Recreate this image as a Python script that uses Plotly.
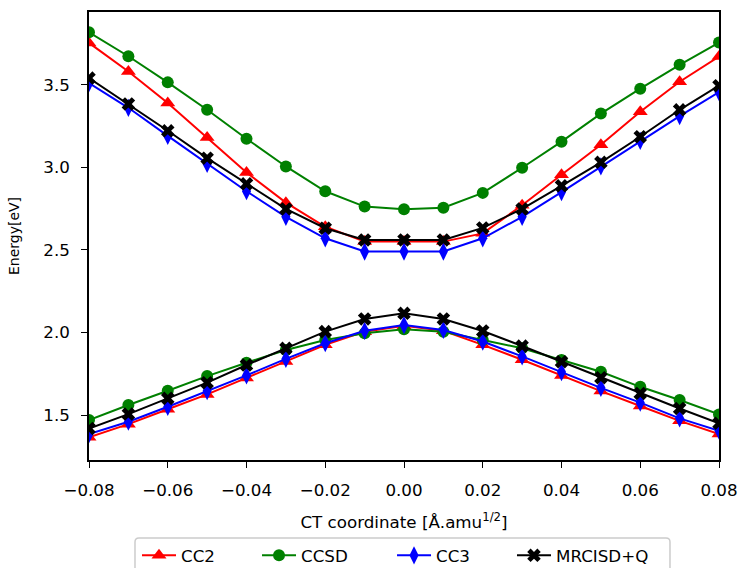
import plotly.graph_objects as go

x = [-0.08, -0.07, -0.06, -0.05, -0.04, -0.03, -0.02, -0.01, 0.0,
     0.01, 0.02, 0.03, 0.04, 0.05, 0.06, 0.07, 0.08]

# Upper state
cc2_up = [3.753, 3.58, 3.389, 3.18, 2.968, 2.786, 2.64, 2.55, 2.55,
          2.55, 2.60, 2.77, 2.955, 3.136, 3.336, 3.518, 3.67]
ccsd_up = [3.817, 3.672, 3.514, 3.348, 3.173, 3.005, 2.855, 2.762, 2.746,
           2.755, 2.845, 2.997, 3.155, 3.325, 3.476, 3.62, 3.755]
cc3_up = [3.51, 3.36, 3.19, 3.02, 2.855, 2.70, 2.57, 2.49, 2.49,
          2.49, 2.57, 2.70, 2.85, 3.005, 3.16, 3.31, 3.455]
mrci_up = [3.54, 3.383, 3.221, 3.055, 2.9, 2.748, 2.631, 2.56, 2.56,
           2.56, 2.633, 2.748, 2.888, 3.03, 3.185, 3.348, 3.494]

# Lower state
cc2_lo = [1.365, 1.445, 1.535, 1.625, 1.725, 1.825, 1.925, 2.005, 2.04,
          2.01, 1.925, 1.835, 1.74, 1.645, 1.555, 1.465, 1.385]
ccsd_lo = [1.47, 1.561, 1.647, 1.736, 1.817, 1.894, 1.955, 1.995, 2.02,
           2.005, 1.955, 1.904, 1.833, 1.762, 1.671, 1.591, 1.504]
cc3_lo = [1.385, 1.46, 1.55, 1.645, 1.74, 1.84, 1.935, 2.01, 2.045,
          2.015, 1.945, 1.855, 1.76, 1.665, 1.575, 1.48, 1.405]
mrci_lo = [1.419, 1.506, 1.601, 1.696, 1.803, 1.904, 2.005, 2.082, 2.116,
           2.082, 2.009, 1.918, 1.823, 1.726, 1.631, 1.54, 1.45]

methods = [
    ("CC2", "red", "triangle-up", 13, cc2_up, cc2_lo),
    ("CCSD", "green", "circle", 12, ccsd_up, ccsd_lo),
    ("CC3", "blue", "diamond-tall", 13, cc3_up, cc3_lo),
    ("MRCISD+Q", "black", "x", 12, mrci_up, mrci_lo),
]

legend_ids = ["legend", "legend2", "legend3", "legend4"]
legend_x = [0.0762, 0.2667, 0.481, 0.6714]

big = dict(family="DejaVu Sans", size=16.7, color="black")
small = dict(family="DejaVu Sans", size=14, color="black")

fig = go.Figure()
for (name, color, sym, sz, up, lo), lid in zip(methods, legend_ids):
    for i, ys in enumerate([up, lo]):
        fig.add_trace(go.Scatter(
            x=x, y=ys, mode="lines+markers", name=name,
            legendgroup=name, showlegend=(i == 0), legend=lid,
            line=dict(color=color, width=2),
            marker=dict(color=color, symbol=sym, size=sz, line=dict(width=0)),
        ))

legend_layout = {}
for lid, lx in zip(legend_ids, legend_x):
    legend_layout[lid] = dict(orientation="h", x=lx, xanchor="left", y=-0.174,
                              yanchor="top", borderwidth=0, bgcolor="rgba(0,0,0,0)",
                              font=big, itemwidth=34)

# legend frame (paper coordinates)
x0, x1, top, bot = 0.073, 0.9222, -0.1741, -0.27
rx, ry = 4 / 630, 4 / 448
frame = (f"M {x0+rx},{top} L {x1-rx},{top} Q {x1},{top} {x1},{top-ry} "
         f"L {x1},{bot} L {x0},{bot} L {x0},{top-ry} Q {x0},{top} {x0+rx},{top} Z")

fig.update_layout(
    width=742, height=568,
    margin=dict(l=89, r=23, t=12, b=108, autoexpand=False),
    paper_bgcolor="white", plot_bgcolor="white",
    font=big,
    showlegend=True,
    shapes=[dict(type="path", path=frame, xref="paper", yref="paper",
                 line=dict(color="#cccccc", width=1.5), layer="below")],
    **legend_layout,
)
fig.update_xaxes(
    range=[-0.08, 0.08], tickvals=[-0.08, -0.06, -0.04, -0.02, 0, 0.02, 0.04, 0.06, 0.08],
    tickformat=".2f", showgrid=False, zeroline=False, automargin=False,
    showline=True, linecolor="black", linewidth=1.5, mirror=True,
    ticks="outside", ticklen=6, tickcolor="black", ticklabelstandoff=8,
    tickfont=big,
    title=dict(text="CT coordinate [Å.amu<sup>1/2</sup>]", standoff=18, font=big),
)
fig.update_yaxes(
    range=[1.228, 3.94], tickvals=[1.5, 2.0, 2.5, 3.0, 3.5], tickformat=".1f",
    showgrid=False, zeroline=False, automargin=False,
    showline=True, linecolor="black", linewidth=1.5, mirror=True,
    ticks="outside", ticklen=6, tickcolor="black", ticklabelstandoff=8,
    tickfont=big,
    title=dict(text="Energy[eV]", standoff=20, font=small),
)
fig.write_html("out.html", post_script="document.body.style.margin='0';",
               config={"displayModeBar": False})
